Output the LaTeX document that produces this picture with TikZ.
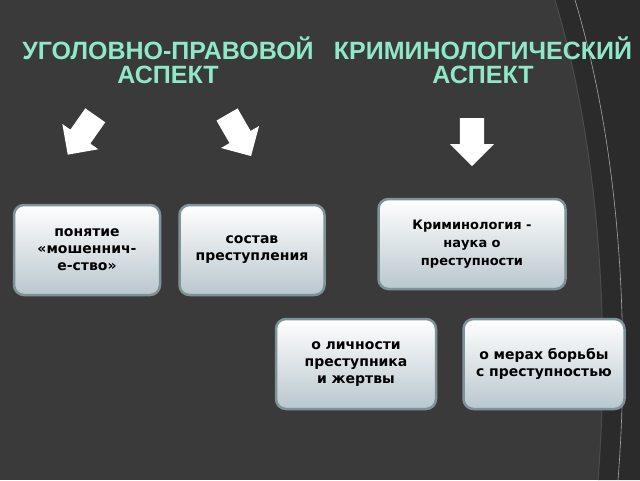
\documentclass[tikz,border=0pt]{standalone}
\usepackage{fontspec}
\setmainfont{DejaVu Sans}
\newfontfamily\headfont{Liberation Sans}
\usetikzlibrary{shapes.arrows,shadows}
\definecolor{bg}{HTML}{3A3A3A}
\definecolor{ttl}{HTML}{8FE8C8}
\definecolor{bord}{HTML}{7F9298}
\definecolor{boxlow}{HTML}{B9C7CD}
\tikzset{
  box/.style={draw=bord, line width=2.5pt, rounded corners=10pt, top color=white, bottom color=boxlow,
    minimum width=#1, minimum height=90pt, align=center, text width=#1-14pt,
    font=\bfseries\fontsize{14}{17}\selectfont, text=black},
  arr/.style={single arrow, fill=white, draw=none, minimum height=48pt, minimum width=44pt,
    single arrow head extend=5pt, inner sep=6pt},
  ttlstyle/.style={text=ttl, font=\headfont\bfseries\fontsize{25}{24}\selectfont, align=center}
}
\begin{document}
\begin{tikzpicture}[x=1pt,y=-1pt]
\fill[bg] (0,0) rectangle (640,480);
\useasboundingbox (0,0) rectangle (640,480);
\fill[black!50!bg,opacity=0.5] (555,0) .. controls (600,150) and (610,330) .. (598,480) -- (640,480) -- (640,0) -- cycle;
\draw[black!70,line width=1pt] (555,0) .. controls (600,150) and (610,330) .. (598,480);
\draw[gray!70,line width=0.6pt] (575,0) .. controls (620,150) and (630,330) .. (618,480);
\node[ttlstyle] (t1) at (168,60) {УГОЛОВНО-ПРАВОВОЙ\\АСПЕКТ};
\node[ttlstyle] (t2) at (483,60) {КРИМИНОЛОГИЧЕСКИЙ\\АСПЕКТ};
\node[arr, rotate=-125] (a1) at (85,130) {};
\node[arr, rotate=-60] (a2) at (236,130) {};
\node[arr, rotate=-90] (a3) at (472,136) {};
\node[box=146pt] (b1) at (87,250) {понятие «мошеннич\-е-ство»};
\node[box=145pt] (b2) at (252,250) {состав преступлен\-ия};
\node[box=187pt, font=\bfseries\fontsize{13}{18}\selectfont] (b3) at (472,244) {Криминология -\\наука о\\преступности};
\node[box=160pt] (b4) at (356,364) {о личности преступника и жертвы};
\node[box=161pt] (b5) at (544,364) {о мерах борьбы с преступност\-ью};
\end{tikzpicture}
\end{document}
